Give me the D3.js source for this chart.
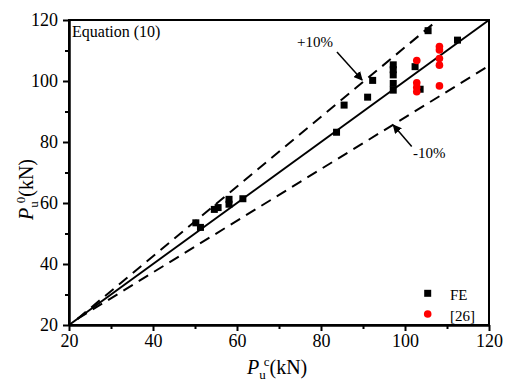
<!DOCTYPE html>
<html>
<head>
<meta charset="UTF-8">
<title>Equation (10)</title>
<script src="https://cdn.jsdelivr.net/npm/d3@7"></script>
<style>
body { margin: 0; background: #fff; }
svg text { fill: #000; }
.axis path, .axis line { stroke: #000; stroke-width: 2; }
</style>
</head>
<body>
<div id="chart"></div>
<script>
// FE results
var feX = [50.2, 51.3, 54.6, 55.5, 58.1, 58.1, 61.4, 83.7, 85.5, 91.1, 92.3, 97.2, 97.2, 97.2, 97.2, 97.2, 102.4, 103.6, 105.5, 112.5];
var feY = [53.5, 52.0, 57.9, 58.5, 61.2, 59.6, 61.4, 83.2, 92.1, 94.7, 100.2, 105.3, 103.7, 102.0, 99.2, 97.0, 104.7, 97.3, 116.5, 113.4];
// test data of [26]
var refX = [102.8, 102.8, 102.8, 102.8, 108.2, 108.2, 108.2, 108.2, 108.2];
var refY = [106.7, 99.4, 97.9, 96.5, 111.3, 110.2, 107.4, 105.2, 98.4];
// reference lines
var line0 = [[20, 20], [120, 120]];
var linePlus = [[22, 22], [106.5, 118.5]];
var lineMinus = [[22, 22], [120, 105]];
var majorTicks = [20, 40, 60, 80, 100, 120];
var minorTicks = [30, 50, 70, 90, 110];

var font = '"Liberation Serif", "Times New Roman", "Liberation Sans", serif';
var width = 510, height = 384;
var svg = d3.select("#chart").append("svg")
    .attr("width", width).attr("height", height)
    .attr("font-family", font);

svg.append("defs").append("marker")
    .attr("id", "arrow")
    .attr("viewBox", "0 0 10 10")
    .attr("refX", 9).attr("refY", 5)
    .attr("markerWidth", 6).attr("markerHeight", 6)
    .attr("orient", "auto")
    .append("path").attr("d", "M0,0 L10,5 L0,10 z").attr("fill", "#000");

var x = d3.scaleLinear().domain([20, 120]).range([69, 489]);
var y = d3.scaleLinear().domain([20, 120]).range([325, 20]);

// minor ticks
svg.append("g").attr("class", "axis")
    .attr("transform", "translate(0,325)")
    .call(d3.axisBottom(x).tickValues(minorTicks).tickSize(4).tickSizeOuter(0).tickFormat(""));
svg.append("g").attr("class", "axis")
    .attr("transform", "translate(69,0)")
    .call(d3.axisLeft(y).tickValues(minorTicks).tickSize(4).tickSizeOuter(0).tickFormat(""));

// major ticks
svg.append("g").attr("class", "axis")
    .attr("transform", "translate(0,325)")
    .call(d3.axisBottom(x).tickValues(majorTicks).tickSize(6).tickSizeOuter(0).tickPadding(3));
svg.append("g").attr("class", "axis")
    .attr("transform", "translate(69,0)")
    .call(d3.axisLeft(y).tickValues(majorTicks).tickSize(6).tickSizeOuter(0).tickPadding(5));
svg.selectAll(".axis").attr("font-family", font).attr("font-size", 18);

// frame
svg.append("rect")
    .attr("x", x(20)).attr("y", y(120))
    .attr("width", x(120) - x(20)).attr("height", y(20) - y(120))
    .attr("fill", "none").attr("stroke", "#000").attr("stroke-width", 2);

var lineGen = d3.line().x(function(d) { return x(d[0]); }).y(function(d) { return y(d[1]); });
svg.append("path").attr("d", lineGen(line0))
    .attr("stroke", "#000").attr("stroke-width", 2).attr("fill", "none");
[linePlus, lineMinus].forEach(function(l) {
    svg.append("path").attr("d", lineGen(l))
        .attr("stroke", "#000").attr("stroke-width", 2).attr("fill", "none")
        .attr("stroke-dasharray", "11,7");
});

// points
var s = 7;
svg.selectAll(".fe").data(feX).enter().append("rect")
    .attr("class", "fe")
    .attr("x", function(d) { return x(d) - s / 2; })
    .attr("y", function(d, i) { return y(feY[i]) - s / 2; })
    .attr("width", s).attr("height", s)
    .attr("fill", "#000");
svg.selectAll(".ref").data(refX).enter().append("circle")
    .attr("class", "ref")
    .attr("cx", function(d) { return x(d); })
    .attr("cy", function(d, i) { return y(refY[i]); })
    .attr("r", 3.8)
    .attr("fill", "#f00");

// annotations
svg.append("text").attr("x", 72).attr("y", 37).attr("font-size", 16).text("Equation (10)");

svg.append("text").attr("x", 297).attr("y", 47).attr("font-size", 15).text("+10%");
svg.append("line")
    .attr("x1", x(83.8)).attr("y1", y(109.5)).attr("x2", x(89.8)).attr("y2", y(100.3))
    .attr("stroke", "#000").attr("stroke-width", 1.5).attr("marker-end", "url(#arrow)");

svg.append("text").attr("x", 413).attr("y", 158).attr("font-size", 15).text("-10%");
svg.append("line")
    .attr("x1", x(101.6)).attr("y1", y(78.5)).attr("x2", x(97.2)).attr("y2", y(85.6))
    .attr("stroke", "#000").attr("stroke-width", 1.5).attr("marker-end", "url(#arrow)");

// legend
svg.append("rect").attr("x", 427.7 - s / 2).attr("y", 293.3 - s / 2).attr("width", s).attr("height", s).attr("fill", "#000");
svg.append("text").attr("x", 450).attr("y", 300).attr("font-size", 15).text("FE");
svg.append("circle").attr("cx", 427.7).attr("cy", 314).attr("r", 3.8).attr("fill", "#f00");
svg.append("text").attr("x", 450).attr("y", 321).attr("font-size", 15).text("[26]");

// axis titles
var xt = svg.append("text").attr("x", 247).attr("y", 374).attr("font-size", 20);
xt.append("tspan").attr("font-style", "italic").text("P");
xt.append("tspan").attr("dy", 5).attr("font-size", 13).text("u");
xt.append("tspan").attr("dx", -2).attr("dy", -13).attr("font-size", 13).text("c");
xt.append("tspan").attr("dy", 8).text("(kN)");

var yt = svg.append("text").attr("transform", "translate(33,220) rotate(-90)").attr("font-size", 20);
yt.append("tspan").attr("font-style", "italic").text("P");
yt.append("tspan").attr("dy", 5).attr("font-size", 13).text("u");
yt.append("tspan").attr("dx", -2).attr("dy", -13).attr("font-size", 13).text("0");
yt.append("tspan").attr("dy", 8).text("(kN)");
</script>
</body>
</html>
